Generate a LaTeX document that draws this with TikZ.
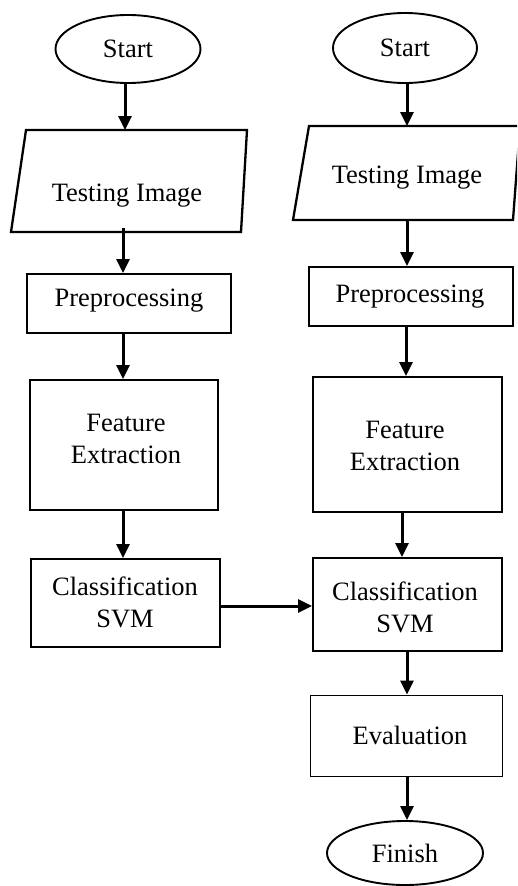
\documentclass[tikz,border=0pt]{standalone}
\usepackage{fontspec}
\setmainfont{Liberation Serif}
\usetikzlibrary{shapes.geometric,arrows.meta}
\begin{document}
\begin{tikzpicture}[x=1pt,y=-1pt,
  every node/.style={font=\fontsize{26.5}{32}\selectfont, align=center, inner sep=0pt},
  term/.style={ellipse, draw, line width=1.9pt},
  procbox/.style={rectangle, draw, line width=2pt},
  thinbox/.style={rectangle, draw, line width=1pt},
  iobox/.style={draw, line width=2.3pt, line join=miter},
  arr/.style={line width=3pt, -{Triangle[width=13pt,length=14pt]}}]
\clip (0,0) rectangle (517,886);
\fill[white] (0,0) rectangle (517,886);

% ---------- left column ----------
\node[term, minimum width=145pt, minimum height=68pt] (s1) at (128,49) {Start};
\draw[iobox] (26,130) -- (247,130) -- (241,232) -- (11,232) -- cycle;
\node (t1) at (127,196) {Testing Image};
\coordinate (p1top) at (125,130);
\coordinate (p1bot) at (123,228);
\node[procbox, minimum width=204pt, minimum height=59pt] (pre1) at (129,303.5) {};
\node (pre1t) at (129,301) {Preprocessing};
\node[procbox, minimum width=188pt, minimum height=130pt] (fe1) at (124,445) {};
\node (fe1t) at (126,439) {Feature\\Extraction};
\node[procbox, minimum width=189pt, minimum height=88pt] (cl1) at (125.5,603) {};
\node (cl1t) at (125,602) {Classification\\SVM};

% ---------- right column ----------
\node[term, minimum width=144pt, minimum height=70pt] (s2) at (405,48) {Start};
\draw[iobox] (309,126) -- (520,126) -- (513,220) -- (293,220) -- cycle;
\node (t2) at (407,178) {Testing Image};
\coordinate (p2top) at (407,126);
\coordinate (p2bot) at (407,220);
\node[procbox, minimum width=204pt, minimum height=59pt] (pre2) at (411,296.5) {};
\node (pre2t) at (410,297) {Preprocessing};
\node[procbox, minimum width=189pt, minimum height=135pt] (fe2) at (407.5,444.5) {};
\node (fe2t) at (405,446) {Feature\\Extraction};
\node[procbox, minimum width=189pt, minimum height=93pt] (cl2) at (407.5,604.5) {};
\node (cl2t) at (405,607) {Classification\\SVM};
\node[thinbox, minimum width=192pt, minimum height=81pt] (ev) at (406,735.5) {};
\node (evt) at (410,735) {Evaluation};
\node[term, minimum width=156pt, minimum height=64pt] (fin) at (405,853) {Finish};

% ---------- connectors ----------
\draw[arr] (s1.south -| p1top) -- (p1top);
\draw[arr] (p1bot) -- (p1bot |- pre1.north);
\draw[arr] (pre1.south -| 123,0) -- (fe1.north -| 123,0);
\draw[arr] (fe1.south -| 123,0) -- (cl1.north -| 123,0);
\draw[arr] (cl1.east |- 0,606) -- (cl2.west |- 0,606);

\draw[arr] (s2.south -| p2top) -- (p2top);
\draw[arr] (p2bot) -- (p2bot |- pre2.north);
\draw[arr] (pre2.south -| 406,0) -- (fe2.north -| 406,0);
\draw[arr] (fe2.south -| 402,0) -- (cl2.north -| 402,0);
\draw[arr] (cl2.south -| 407,0) -- (ev.north -| 407,0);
\draw[arr] (ev.south -| 407,0) -- (fin.north -| 407,0);
\end{tikzpicture}
\end{document}
